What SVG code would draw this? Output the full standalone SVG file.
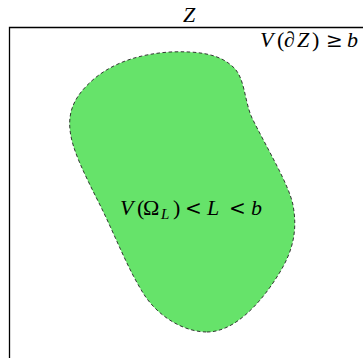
<svg xmlns="http://www.w3.org/2000/svg" width="363" height="358" viewBox="0 0 363 358">
<style>
.t{font-family:"Liberation Serif","DejaVu Serif",serif;font-size:22px;fill:#000}
.i{font-style:italic}
.s{font-size:15px;font-style:italic}
.o{font-family:"DejaVu Serif",serif;font-size:20px}
</style>
<rect x="0" y="0" width="363" height="358" fill="#fff"/>
<g id="Z">
<path d="M9.5,370 L9.5,27.5 L380,27.5" fill="none" stroke="#000" stroke-width="1.3"/>
<text class="t i" x="183" y="22">Z</text>
<text class="t" y="47"><tspan class="i" x="260">V</tspan><tspan x="277">(</tspan><tspan class="i" x="284">∂</tspan><tspan class="i" x="297">Z</tspan><tspan x="312">)</tspan><tspan class="o" x="326">≥</tspan><tspan class="i" x="347">b</tspan></text>
</g>
<g id="omega">
<path d="M207,332 C235,332 262,302 280,272 C292,252 298,232 293,205 C289,185 268,150 252,118 C244,100 245,76 232,66 C218,53 195,51 170,52 C140,54 115,62 95,78 C75,95 68,110 70,130 C72,150 85,175 100,205 C115,235 128,270 145,296 C160,318 185,332 207,332 Z" fill="#66E36A" stroke="#222" stroke-width="0.9" stroke-dasharray="3.5,2.5"/>
<text class="t" y="215"><tspan class="i" x="120">V</tspan><tspan x="137">(</tspan><tspan x="143">Ω</tspan><tspan class="s" x="161" y="219">L</tspan><tspan x="173" y="215">)</tspan><tspan class="o" x="185">&lt;</tspan><tspan class="i" x="207">L</tspan><tspan class="o" x="229">&lt;</tspan><tspan class="i" x="251">b</tspan></text>
</g>
</svg>
